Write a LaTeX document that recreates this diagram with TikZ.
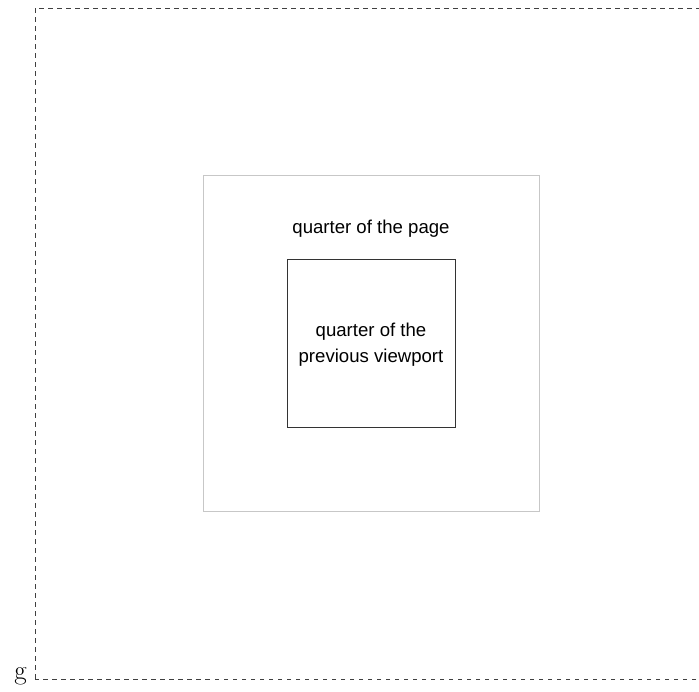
\documentclass[tikz,border=0pt]{standalone}
\usepackage{fontspec}
\setsansfont{Liberation Sans}
\begin{document}
\begin{tikzpicture}[x=1pt,y=1pt,
  pageframe/.style={draw=black!75, line width=0.9pt, dash pattern=on 4.5pt off 4.5pt},
  outerbox/.style={draw=black!22, line width=1pt, minimum width=336pt, minimum height=336pt, inner sep=0pt},
  innerbox/.style={draw=black!80, line width=1pt, minimum width=168pt, minimum height=168pt, inner sep=0pt},
  lbl/.style={font=\sffamily\fontsize{18.6}{26}\selectfont, align=center, inner sep=0pt}]
\useasboundingbox (0,0) rectangle (699,691);
\begin{scope}
\clip (0,0) rectangle (699,691);
\draw[pageframe] (35,12) rectangle (707,683);
\end{scope}
\coordinate (corner) at (35,12);
\node[font=\fontsize{27}{32}\selectfont, inner sep=0pt, anchor=base east] (g) at ([xshift=-8pt,yshift=0pt]corner) {g};
\node[outerbox] (outer) at (371,347) {};
\node[innerbox] (inner) at (371,347) {};
\node[lbl] (t1) at (371,462) {quarter of the page};
\node[lbl] (t2) at (371,346.5) {quarter of the\\previous viewport};
\end{tikzpicture}
\end{document}
